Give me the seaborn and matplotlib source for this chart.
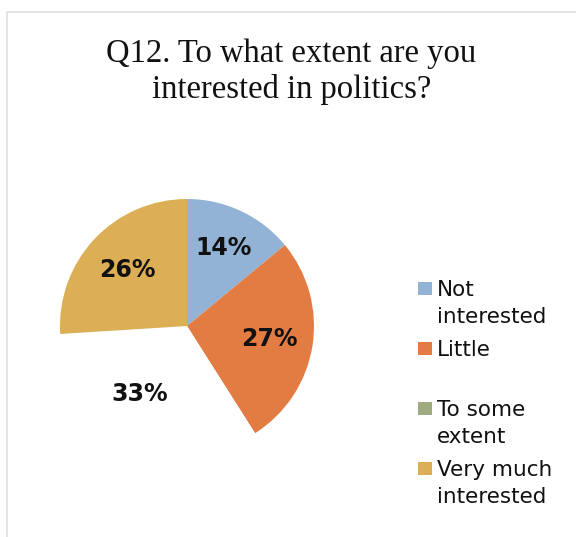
import matplotlib
matplotlib.use("Agg")
import matplotlib.pyplot as plt
from matplotlib.patches import Rectangle
import numpy as np
import seaborn as sns

categories = ["Not\ninterested", "Little", "To some\nextent", "Very much\ninterested"]
values = [14, 27, 33, 26]
pct_labels = ["14%", "27%", "33%", "26%"]
slice_colors = ["#93b3d6", "#e27c42", "#ffffff", "#dcae55"]
legend_colors = ["#93b3d6", "#e27c42", "#9eab80", "#dcae55"]
title = "Q12. To what extent are you\ninterested in politics?"

sns.set_theme(style="white")
plt.rcParams["font.family"] = ["DejaVu Sans"]

W, H = 576, 537
fig = plt.figure(figsize=(W / 100, H / 100), dpi=100)
fig.patch.set_facecolor("white")

# outer frame (top and left visible)
fig.add_artist(Rectangle((7 / W, -0.1), 1.2, 1 - 12 / H + 0.1, transform=fig.transFigure,
                         fill=False, edgecolor="#e2dedb", linewidth=1.2))

cx, cy, r = 187, 326, 127
ax = fig.add_axes([(cx - r) / W, (H - cy - r) / H, 2 * r / W, 2 * r / H])
wedges, texts = ax.pie(values, colors=slice_colors, startangle=90, counterclock=False,
                       radius=1.0, wedgeprops=dict(linewidth=0))
ax.set_xlim(-1, 1)
ax.set_ylim(-1, 1)
ax.set_aspect("equal")
ax.axis("off")

cum = np.cumsum([0] + values[:-1])
tot = sum(values)
dists = [0.68, 0.66, 0.6, 0.64]
for i, (v, c0, lab) in enumerate(zip(values, cum, pct_labels)):
    mid = np.deg2rad(90 - (c0 + v / 2) / tot * 360)
    d = dists[i]
    ax.text(d * np.cos(mid) - (0.1 if i == 2 else 0), d * np.sin(mid), lab,
            ha="center", va="center", fontsize=17, fontweight="bold", color="#111111")

for k, line in enumerate(title.split("\n")):
    fig.text(291.5 / W, 1 - (62 + 36 * k) / H, line, ha="center", va="baseline",
             fontsize=23.5, family=["Liberation Serif"], color="#111111")

# legend
base = [296, 356, 416, 476]
for lab, col, b in zip(categories, legend_colors, base):
    fig.add_artist(Rectangle((418 / W, 1 - (b - 1) / H), 14 / W, 13 / H,
                             transform=fig.transFigure, facecolor=col, edgecolor="none"))
    for k, line in enumerate(lab.split("\n")):
        fig.text(437 / W, 1 - (b + 27 * k) / H, line, ha="left", va="baseline",
                 fontsize=15.5, color="#111111")

fig.savefig("out.png", dpi=100)
